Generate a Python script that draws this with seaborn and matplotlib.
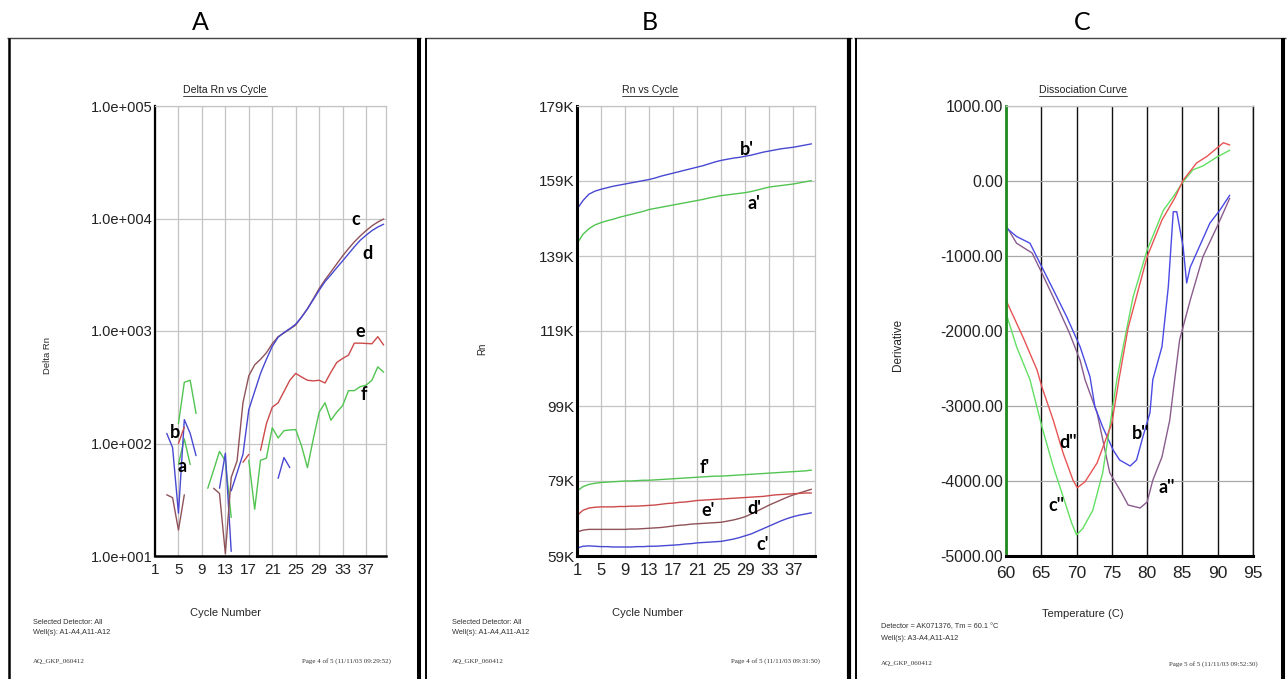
import numpy as np
import pandas as pd
import matplotlib
matplotlib.use("Agg")
import matplotlib.pyplot as plt
import seaborn as sns
from matplotlib.lines import Line2D
from matplotlib.ticker import FixedLocator, FixedFormatter, NullLocator

nan = np.nan

# ---------------------------------------------------------------- data
cycles = list(range(1, 41))

# Delta Rn per cycle (NaN = not drawn on the log axis)
delta_a = [nan, nan, nan, nan, 65, 110, 65, nan, nan, 40,
           58, 85, 70, 22, nan, nan, nan, nan, nan, nan,
           nan, nan, nan, nan, nan, nan, nan, nan, nan, nan,
           nan, nan, nan, nan, nan, nan, nan, nan, nan, nan]
delta_b = [nan, nan, 123, 92, 24, 163, 123, 78, nan, nan,
           nan, 40, 82, 11, nan, nan, nan, nan, nan, nan,
           nan, 49, 75, 61, nan, nan, nan, nan, nan, nan,
           nan, nan, nan, nan, nan, nan, nan, nan, nan, nan]
delta_c = [nan, nan, 35, 33, 17, 35, nan, nan, nan, nan,
           40, 36, 10.5, 50, 70, 230, 400, 500, 560, 640,
           770, 890, 960, 1040, 1130, 1330, 1580, 1930, 2380, 2850,
           3350, 3950, 4650, 5400, 6200, 7000, 7800, 8600, 9300, 9900]
delta_d = [nan, nan, nan, nan, nan, nan, nan, nan, nan, nan,
           nan, nan, nan, 38, 55, 80, 200, 290, 420, 560,
           730, 880, 970, 1050, 1150, 1330, 1570, 1900, 2300, 2750,
           3150, 3650, 4200, 4850, 5600, 6400, 7100, 7800, 8400, 8900]
delta_e = [nan, nan, nan, nan, 100, 140, nan, nan, nan, nan,
           nan, nan, nan, nan, nan, 68, 80, nan, 87, 150,
           210, 230, 290, 365, 420, 390, 365, 360, 365, 345,
           430, 525, 570, 610, 780, 780, 775, 770, 890, 750]
delta_f = [nan, nan, nan, nan, 150, 350, 365, 185, nan, nan,
           nan, nan, nan, nan, nan, nan, 71, 26, 71, 74,
           138, 112, 130, 132, 133, 95, 61, 110, 190, 230,
           161, 190, 217, 295, 295, 320, 330, 365, 480, 430]

# Rn per cycle, in thousands
rn_a = [142.3, 144.8, 146.3, 147.3, 147.9, 148.4, 148.8, 149.3, 149.7, 150.1,
        150.5, 150.9, 151.4, 151.7, 152.0, 152.3, 152.6, 152.9, 153.2, 153.5,
        153.8, 154.1, 154.5, 154.8, 155.1, 155.3, 155.5, 155.7, 155.9, 156.2,
        156.6, 157.0, 157.4, 157.6, 157.8, 158.0, 158.2, 158.5, 158.8, 159.1]
rn_b = [151.5, 153.8, 155.5, 156.3, 156.8, 157.2, 157.6, 157.9, 158.2, 158.5,
        158.8, 159.1, 159.4, 159.8, 160.3, 160.7, 161.1, 161.5, 161.9, 162.3,
        162.7, 163.1, 163.6, 164.1, 164.5, 164.8, 165.1, 165.3, 165.6, 165.9,
        166.3, 166.7, 167.0, 167.3, 167.6, 167.8, 168.0, 168.3, 168.6, 168.9]
rn_c = [61.1, 61.6, 61.7, 61.6, 61.5, 61.5, 61.4, 61.4, 61.4, 61.4,
        61.5, 61.5, 61.6, 61.6, 61.7, 61.8, 61.9, 62.0, 62.2, 62.3,
        62.5, 62.6, 62.7, 62.8, 62.9, 63.2, 63.5, 63.9, 64.4, 64.9,
        65.6, 66.3, 67.0, 67.7, 68.4, 69.0, 69.5, 69.9, 70.2, 70.5]
rn_d = [65.4, 65.9, 66.1, 66.1, 66.1, 66.1, 66.1, 66.1, 66.1, 66.2,
        66.2, 66.3, 66.4, 66.5, 66.6, 66.8, 67.0, 67.2, 67.3, 67.5,
        67.6, 67.7, 67.8, 67.9, 68.0, 68.3, 68.6, 69.0, 69.5, 70.2,
        71.0, 71.8, 72.6, 73.3, 74.0, 74.7, 75.3, 75.8, 76.3, 76.8]
rn_e = [69.8, 71.2, 71.8, 72.0, 72.1, 72.1, 72.1, 72.2, 72.2, 72.3,
        72.3, 72.4, 72.5, 72.6, 72.8, 73.0, 73.1, 73.3, 73.4, 73.6,
        73.8, 73.9, 74.0, 74.1, 74.2, 74.3, 74.4, 74.5, 74.6, 74.7,
        74.8, 74.9, 75.1, 75.3, 75.4, 75.5, 75.6, 75.7, 75.8, 75.8]
rn_f = [76.3, 77.5, 78.1, 78.4, 78.6, 78.7, 78.8, 78.9, 79.0, 79.0,
        79.1, 79.2, 79.2, 79.3, 79.4, 79.5, 79.6, 79.7, 79.8, 79.9,
        80.0, 80.1, 80.2, 80.3, 80.3, 80.4, 80.5, 80.6, 80.7, 80.8,
        80.9, 81.0, 81.1, 81.2, 81.3, 81.4, 81.5, 81.6, 81.7, 81.9]

# Dissociation curves: temperature (C) and derivative
temp_a2 = [60.1, 61.5, 63.7, 65.1, 66.7, 69.0, 70.5, 71.2, 72.9, 74.7, 76.4, 77.3,
           79.0, 80.0, 80.8, 82.1, 83.2, 83.9, 84.6, 86.1, 87.9, 89.9, 91.7]
deriv_a2 = [-610, -830, -960, -1230, -1550, -2030, -2390, -2650, -3090, -3890, -4160, -4320,
            -4360, -4280, -3990, -3680, -3190, -2650, -2120, -1590, -1010, -610, -230]
temp_b2 = [60.1, 61.5, 63.4, 65.1, 66.7, 68.6, 70.5, 71.9, 72.6, 73.7, 75.2, 76.1, 77.6, 78.5,
           79.4, 80.4, 80.8, 82.1, 83.0, 83.7, 84.2, 85.1, 85.6, 86.1, 87.0, 88.9, 90.3, 91.7]
deriv_b2 = [-630, -740, -830, -1150, -1450, -1810, -2210, -2610, -3010, -3280, -3590, -3720, -3800, -3720,
            -3410, -3090, -2650, -2210, -1410, -410, -410, -880, -1360, -1150, -960, -560, -390, -190]
temp_c2 = [60.1, 61.5, 63.4, 65.1, 66.7, 68.1, 69.3, 70.0, 70.9, 72.3, 73.7, 75.0,
           75.7, 76.6, 78.0, 80.0, 82.3, 83.7, 85.1, 86.5, 87.9, 89.9, 91.7]
deriv_c2 = [-1790, -2210, -2650, -3280, -3810, -4210, -4560, -4720, -4630, -4390, -3890, -3090,
            -2650, -2210, -1550, -920, -390, -210, -10, 150, 200, 320, 410]
temp_d2 = [60.1, 62.4, 64.4, 65.1, 66.7, 68.1, 69.5, 70.1, 71.2, 72.9, 75.0,
           76.0, 77.3, 80.0, 82.1, 83.9, 85.1, 87.0, 88.5, 89.9, 90.8, 91.7]
deriv_d2 = [-1610, -2080, -2520, -2750, -3190, -3630, -3990, -4090, -4010, -3760, -3230,
            -2650, -1960, -1010, -520, -230, 10, 240, 330, 440, 510, 480]

delta_ticks = [10, 100, 1000, 10000, 100000]
delta_ticklabels = ["1.0e+001", "1.0e+002", "1.0e+003", "1.0e+004", "1.0e+005"]
cycle_ticks = [1, 5, 9, 13, 17, 21, 25, 29, 33, 37]
rn_ticks = [59, 79, 99, 119, 139, 159, 179]
rn_ticklabels = ["59K", "79K", "99K", "119K", "139K", "159K", "179K"]
temp_ticks = [60, 65, 70, 75, 80, 85, 90, 95]
deriv_ticks = [-5000, -4000, -3000, -2000, -1000, 0, 1000]
deriv_ticklabels = ["-5000.00", "-4000.00", "-3000.00", "-2000.00", "-1000.00", "0.00", "1000.00"]

# ---------------------------------------------------------------- style
BLUE = "#4848d2"
GREEN = "#52c452"
RED = "#cc4a4a"
BROWN = "#8f5259"
LIME = "#63e063"
RED2 = "#e85454"
BLUE2 = "#4a4ae4"
MAUVE = "#8a5c8e"
GRID = "#c4c4c4"

sns.set_theme(style="white")
plt.rcParams["font.family"] = ["Liberation Sans", "DejaVu Sans"]

W, H = 1287, 679
fig = plt.figure(figsize=(W / 100, H / 100), dpi=100)
fig.patch.set_facecolor("white")


def fx(px):
    return px / W


def fy(py):
    return 1 - py / H


def long_frame(x, series, names):
    """Stack series into long form; each unbroken run gets its own unit id."""
    rows = []
    for name, values in zip(names, series):
        seg, broken = 0, True
        for xi, v in zip(x, values):
            if v is None or np.isnan(v):
                broken = True
                continue
            if broken:
                seg += 1
                broken = False
            rows.append((xi, v, name, f"{name}-{seg}"))
    return pd.DataFrame(rows, columns=["x", "y", "well", "seg"])


def axes_at(left, right, top=106, bottom=556):
    return fig.add_axes([fx(left), fy(bottom), (right - left) / W, (bottom - top) / H])


def style_frame(ax, left_color="black", left_w=1.6, bottom_w=1.8, edge=GRID):
    ax.set_facecolor("white")
    for side in ("top", "right"):
        ax.spines[side].set_color(edge)
        ax.spines[side].set_linewidth(0.9)
    ax.spines["left"].set_color(left_color)
    ax.spines["left"].set_linewidth(left_w)
    ax.spines["bottom"].set_color("black")
    ax.spines["bottom"].set_linewidth(bottom_w)
    ax.tick_params(length=0, colors="#222222")
    ax.tick_params(axis="y", pad=2)
    ax.tick_params(axis="x", pad=5)
    ax.set_axisbelow(True)


def tag(ax, x, y, s):
    ax.text(x, y, s, fontsize=13, fontweight="bold", family=["Lato", "DejaVu Sans"],
            ha="center", va="center", color="black", zorder=5)


titles = []

# ---------------------------------------------------------------- A: Delta Rn vs Cycle
axA = axes_at(155, 386)
axA.set_yscale("log")
dfA = long_frame(cycles, [delta_a, delta_b, delta_c, delta_d, delta_e, delta_f],
                 ["a", "b", "c", "d", "e", "f"])
sns.lineplot(data=dfA, x="x", y="y", hue="well", units="seg", estimator=None, sort=False,
             palette={"a": GREEN, "b": BLUE, "c": BROWN, "d": BLUE, "e": RED, "f": GREEN},
             legend=False, lw=1.0, ax=axA)
axA.set_xlim(1, 40.4)
axA.set_ylim(10, 100000)
axA.yaxis.set_major_locator(FixedLocator(delta_ticks))
axA.yaxis.set_major_formatter(FixedFormatter(delta_ticklabels))
axA.yaxis.set_minor_locator(NullLocator())
axA.xaxis.set_major_locator(FixedLocator(cycle_ticks))
axA.grid(True, color=GRID, lw=0.9)
style_frame(axA)
axA.tick_params(axis="y", labelsize=10.5)
axA.tick_params(axis="x", labelsize=11)
axA.set_xlabel("Cycle Number", fontsize=8)
axA.set_ylabel("Delta Rn", fontsize=6.8)
axA.xaxis.set_label_coords((226 - 155) / 231, (556 - 613) / 450)
axA.xaxis.label.set_va("center")
axA.yaxis.set_label_coords((48 - 155) / 231, (556 - 355) / 450)
axA.yaxis.label.set_va("center")
titles.append(axA.text((225 - 155) / 231, (556 - 90) / 450, "Delta Rn vs Cycle",
                       transform=axA.transAxes, ha="center", va="center", fontsize=7.6, color="#222222"))
tag(axA, 35.3, 9800, "c")
tag(axA, 37.2, 4900, "d")
tag(axA, 36.0, 980, "e")
tag(axA, 36.7, 270, "f")
tag(axA, 4.4, 126, "b")
tag(axA, 5.6, 63, "a")

# ---------------------------------------------------------------- B: Rn vs Cycle
axB = axes_at(577, 815)
dfB = long_frame(cycles, [rn_a, rn_b, rn_c, rn_d, rn_e, rn_f],
                 ["a'", "b'", "c'", "d'", "e'", "f'"])
sns.lineplot(data=dfB, x="x", y="y", hue="well", units="seg", estimator=None, sort=False,
             palette={"a'": GREEN, "b'": BLUE, "c'": BLUE, "d'": BROWN, "e'": RED, "f'": GREEN},
             legend=False, lw=1.0, ax=axB)
axB.set_xlim(1, 40.6)
axB.set_ylim(59, 179)
axB.yaxis.set_major_locator(FixedLocator(rn_ticks))
axB.yaxis.set_major_formatter(FixedFormatter(rn_ticklabels))
axB.xaxis.set_major_locator(FixedLocator(cycle_ticks))
axB.grid(True, color=GRID, lw=0.9)
style_frame(axB, left_w=2.2, bottom_w=2.2)
axB.tick_params(axis="y", labelsize=11)
axB.tick_params(axis="x", labelsize=12)
axB.set_xlabel("Cycle Number", fontsize=8)
axB.set_ylabel("Rn", fontsize=7)
axB.xaxis.set_label_coords((648 - 577) / 238, (556 - 613) / 450)
axB.xaxis.label.set_va("center")
axB.yaxis.set_label_coords((482 - 577) / 238, (556 - 349) / 450)
axB.yaxis.label.set_va("center")
titles.append(axB.text((650 - 577) / 238, (556 - 90) / 450, "Rn vs Cycle",
                       transform=axB.transAxes, ha="center", va="center", fontsize=7.6, color="#222222"))
tag(axB, 29.3, 167.5, "b'")
tag(axB, 30.5, 152.9, "a'")
tag(axB, 22.3, 82.7, "f'")
tag(axB, 22.8, 71.2, "e'")
tag(axB, 30.5, 71.8, "d'")
tag(axB, 31.8, 62.2, "c'")

# ---------------------------------------------------------------- C: Dissociation Curve
axC = axes_at(1006, 1253)
dfC = pd.concat([
    pd.DataFrame({"t": temp_a2, "d": deriv_a2, "well": "a''"}),
    pd.DataFrame({"t": temp_b2, "d": deriv_b2, "well": "b''"}),
    pd.DataFrame({"t": temp_c2, "d": deriv_c2, "well": "c''"}),
    pd.DataFrame({"t": temp_d2, "d": deriv_d2, "well": "d''"}),
], ignore_index=True)
sns.lineplot(data=dfC, x="t", y="d", hue="well", estimator=None, sort=False,
             palette={"a''": MAUVE, "b''": BLUE2, "c''": LIME, "d''": RED2},
             legend=False, lw=1.0, ax=axC)
axC.set_xlim(60, 95)
axC.set_ylim(-5000, 1000)
axC.xaxis.set_major_locator(FixedLocator(temp_ticks))
axC.yaxis.set_major_locator(FixedLocator(deriv_ticks))
axC.yaxis.set_major_formatter(FixedFormatter(deriv_ticklabels))
axC.xaxis.grid(True, color="#111111", lw=1.0)
axC.yaxis.grid(True, color="#a8a8a8", lw=0.9)
style_frame(axC, left_color="#1f8a1f", left_w=2.0, bottom_w=2.2)
axC.spines["right"].set_color("#111111")
axC.spines["right"].set_linewidth(1.0)
axC.tick_params(axis="y", labelsize=11.3)
axC.tick_params(axis="x", labelsize=12.5, pad=7)
axC.set_xlabel("Temperature (C)", fontsize=8)
axC.set_ylabel("Derivative", fontsize=8.5)
axC.xaxis.set_label_coords((1083 - 1006) / 247, (556 - 614) / 450)
axC.xaxis.label.set_va("center")
axC.yaxis.set_label_coords((898 - 1006) / 247, (556 - 345) / 450)
axC.yaxis.label.set_va("center")
titles.append(axC.text((1083 - 1006) / 247, (556 - 90) / 450, "Dissociation Curve",
                       transform=axC.transAxes, ha="center", va="center", fontsize=7.6, color="#222222"))
tag(axC, 68.8, -3480, "d''")
tag(axC, 79.1, -3360, "b''")
tag(axC, 67.1, -4320, "c''")
tag(axC, 82.7, -4080, "a''")

# ---------------------------------------------------------------- panel frames and letters
def vline(x, lw, y0=38, y1=H):
    fig.add_artist(Line2D([fx(x), fx(x)], [fy(y0), fy(y1)], transform=fig.transFigure,
                          color="black", lw=lw, solid_capstyle="butt"))


def hline(y, x0, x1, lw=1.0, color="#444444"):
    fig.add_artist(Line2D([fx(x0), fx(x1)], [fy(y), fy(y)], transform=fig.transFigure,
                          color=color, lw=lw, solid_capstyle="butt"))


hline(38, 7, 421)
hline(38, 425, 852)
hline(38, 854, 1286)
vline(8.5, 1.8)
vline(419.3, 2.9)
vline(426.0, 1.4)
vline(849.5, 3.0)
vline(855.8, 1.4)
vline(1283.2, 2.9)

for x, s in [(200, "A"), (650, "B"), (1082, "C")]:
    fig.text(fx(x), fy(22), s, ha="center", va="center", fontsize=18,
             family=["Lato", "DejaVu Sans"], color="black")

# ---------------------------------------------------------------- footers
small = dict(fontsize=5.3, va="center", color="#333333")
serif = dict(fontsize=5.0, va="center", color="#333333", family=["Liberation Serif", "DejaVu Serif"])

fig.text(fx(33), fy(622), "Selected Detector: All", **small)
fig.text(fx(33), fy(633), "Well(s): A1-A4,A11-A12", **small)
fig.text(fx(33), fy(661), "AQ_GKP_060412", **serif)
fig.text(fx(391), fy(661), "Page 4 of 5 (11/11/03 09:29:52)", ha="right", **serif)

fig.text(fx(452), fy(622), "Selected Detector: All", **small)
fig.text(fx(452), fy(633), "Well(s): A1-A4,A11-A12", **small)
fig.text(fx(452), fy(661), "AQ_GKP_060412", **serif)
fig.text(fx(820), fy(661), "Page 4 of 5 (11/11/03 09:31:50)", ha="right", **serif)

fig.text(fx(881), fy(627), "Detector = AK071376, Tm = 60.1 °C", **small)
fig.text(fx(881), fy(638), "Well(s): A3-A4,A11-A12", **small)
fig.text(fx(881), fy(664), "AQ_GKP_060412", **serif)
fig.text(fx(1258), fy(664), "Page 5 of 5 (11/11/03 09:52:30)", ha="right", **serif)

# underline the chart titles
fig.canvas.draw()
renderer = fig.canvas.get_renderer()
inv = fig.transFigure.inverted()
for t in titles:
    bb = t.get_window_extent(renderer)
    (x0, y0), (x1, _) = inv.transform([(bb.x0, bb.y0 - 0.5), (bb.x1, bb.y0 - 0.5)])
    fig.add_artist(Line2D([x0, x1], [y0, y0], transform=fig.transFigure,
                          color="#222222", lw=0.6))

fig.savefig("out.png", dpi=100, facecolor="white")
